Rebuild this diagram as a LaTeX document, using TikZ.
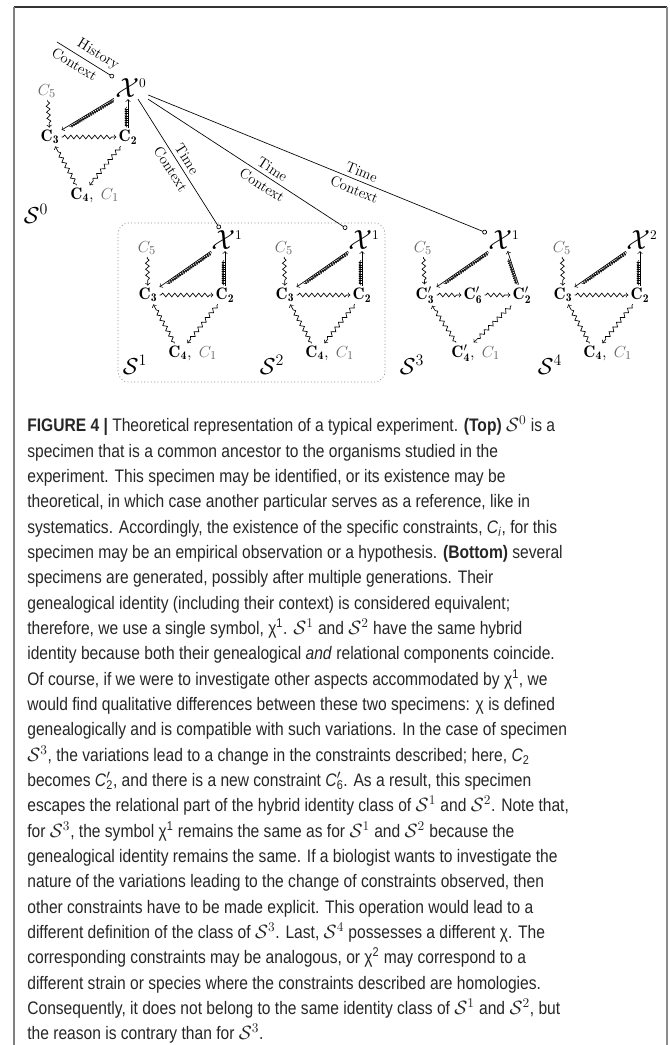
\documentclass[tikz,border=0pt]{standalone}
\usepackage{fontspec}
\newfontfamily\capfont[FakeStretch=0.86]{Liberation Sans}
\usetikzlibrary{arrows.meta, positioning, decorations.pathmorphing, decorations.markings}

\begin{document}
\begin{tikzpicture}[x=0.75pt, y=-0.75pt, line width=0.5pt, >=to,
  cst/.style={inner sep=1.5pt, font=\fontsize{12.5}{14}\selectfont},
  aux/.style={cst, text=black!60},
  chi/.style={inner sep=1pt, font=\fontsize{20}{20}\selectfont},
  spec/.style={inner sep=0pt, font=\fontsize{17}{17}\selectfont},
  wave/.style={->, decorate, decoration={snake, amplitude=1.4pt, segment length=4.5pt, pre length=1pt, post length=2.5pt}},
  comb/.style={->, postaction={decorate, decoration={markings, mark=between positions 2pt and -7pt step 1.7pt with {\draw[line width=0.45pt] (0,0) -- (0,2.6pt);}}}},
  link/.style={-{Circle[open, length=3.5pt]}},
  lab/.style={font=\fontsize{11}{13}\selectfont, sloped, inner sep=3pt}]
\useasboundingbox (0,0) rectangle (669,1045);
% frame
\draw[black!80, line width=0.9pt] (14,7) -- (667,7);
\draw[black!50, line width=1pt] (14,7) -- (14,1045);
\draw[black!45, line width=1.6pt] (667,7) -- (667,1045);
% S0
\node[chi] (x0) at (131,88) {$\mathcal{X}^{\scriptscriptstyle 0}$};
\node[aux] (c5) at (47,91) {$C_5$};
\node[cst] (c3) at (50,137) {$\mathbf{C_3}$};
\node[cst] (c2) at (128,137) {$\mathbf{C_2}$};
\node[cst] (c4) at (82,195) {$\mathbf{C_4}$,};
\node[aux, base right=2pt of c4] (c1) {$C_1$};
\node[spec] (s0) at (36,214) {$\mathcal{S}^0$};
\draw[comb] (x0) -- (c3);
\draw[comb] (c2) -- (c2 |- x0.south);
\draw[wave] (c5) -- (c3);
\draw[wave] (c3) -- (c2);
\draw[wave] (c2) -- (c4);
\draw[wave] (c4) -- (c3);
\coordinate (hist) at (57,42);
\draw[link] (hist) -- (x0) node[lab, pos=.62, above] {History} node[lab, pos=.4, below] {Context};
% S1
\begin{scope}[shift={(227,240)}]
\node[chi] (s1x) at (0,0) {$\mathcal{X}^{\scriptscriptstyle 1}$};
\node[aux] (s1c5) at (-80,8) {$C_5$};
\node[cst] (s1c3) at (-79,55) {$\mathbf{C_3}$};
\node[cst] (s1c2) at (-2,55) {$\mathbf{C_2}$};
\node[cst] (s1c4) at (-47,113) {$\mathbf{C_4}$,};
\node[aux, base right=2pt of s1c4] (s1c1) {$C_1$};
\node[spec] (s1s) at (-92,125) {$\mathcal{S}^1$};
\draw[comb] (s1x) -- (s1c3);
\draw[comb] (s1c2) -- (s1c2 |- s1x.south);
\draw[wave] (s1c5) -- (s1c3);
\draw[wave] (s1c3) -- (s1c2);
\draw[wave] (s1c2) -- (s1c4);
\draw[wave] (s1c4) -- (s1c3);
\end{scope}
% S2
\begin{scope}[shift={(364,240)}]
\node[chi] (s2x) at (0,0) {$\mathcal{X}^{\scriptscriptstyle 1}$};
\node[aux] (s2c5) at (-80,8) {$C_5$};
\node[cst] (s2c3) at (-79,55) {$\mathbf{C_3}$};
\node[cst] (s2c2) at (-2,55) {$\mathbf{C_2}$};
\node[cst] (s2c4) at (-47,113) {$\mathbf{C_4}$,};
\node[aux, base right=2pt of s2c4] (s2c1) {$C_1$};
\node[spec] (s2s) at (-92,125) {$\mathcal{S}^2$};
\draw[comb] (s2x) -- (s2c3);
\draw[comb] (s2c2) -- (s2c2 |- s2x.south);
\draw[wave] (s2c5) -- (s2c3);
\draw[wave] (s2c3) -- (s2c2);
\draw[wave] (s2c2) -- (s2c4);
\draw[wave] (s2c4) -- (s2c3);
\end{scope}
% S3
\begin{scope}[shift={(504,240)}]
\node[chi] (s3x) at (0,0) {$\mathcal{X}^{\scriptscriptstyle 1}$};
\node[aux] (s3c5) at (-81,8) {$C_5$};
\node[cst] (s3c3) at (-79,55) {$\mathbf{C'_3}$};
\node[cst] (s3c6) at (-31,55) {$\mathbf{C'_6}$};
\node[cst] (s3c2) at (18,55) {$\mathbf{C'_2}$};
\node[cst] (s3c4) at (-41,113) {$\mathbf{C'_4}$,};
\node[aux, base right=2pt of s3c4] (s3c1) {$C_1$};
\node[spec] (s3s) at (-92,125) {$\mathcal{S}^3$};
\draw[comb] (s3x) -- (s3c3);
\draw[comb] (s3c2) -- (s3x);
\draw[wave] (s3c5) -- (s3c3);
\draw[wave] (s3c3) -- (s3c6);
\draw[wave] (s3c6) -- (s3c2);
\draw[wave] (s3c2) -- (s3c4);
\draw[wave] (s3c4) -- (s3c3);
\end{scope}
% S4
\begin{scope}[shift={(642,240)}]
\node[chi] (s4x) at (0,0) {$\mathcal{X}^{\scriptscriptstyle 2}$};
\node[aux] (s4c5) at (-80,8) {$C_5$};
\node[cst] (s4c3) at (-79,55) {$\mathbf{C_3}$};
\node[cst] (s4c2) at (-2,55) {$\mathbf{C_2}$};
\node[cst] (s4c4) at (-47,113) {$\mathbf{C_4}$,};
\node[aux, base right=2pt of s4c4] (s4c1) {$C_1$};
\node[spec] (s4s) at (-92,125) {$\mathcal{S}^4$};
\draw[comb] (s4x) -- (s4c3);
\draw[comb] (s4c2) -- (s4c2 |- s4x.south);
\draw[wave] (s4c5) -- (s4c3);
\draw[wave] (s4c3) -- (s4c2);
\draw[wave] (s4c2) -- (s4c4);
\draw[wave] (s4c4) -- (s4c3);
\end{scope}
% genealogical links
\draw[link] (x0) -- (s1x) node[lab, pos=.5, above] {Time} node[lab, pos=.5, below] {Context};
\draw[link] (x0) -- (s2x) node[lab, pos=.6, above] {Time} node[lab, pos=.6, below] {Context};
\draw[link] (x0) -- (s3x) node[lab, pos=.62, above] {Time} node[lab, pos=.62, below] {Context};
\draw[dotted, black!70, rounded corners=8pt] (118,223) rectangle (385,382);
% caption
\node[anchor=north west, align=left, inner sep=0pt, text=black!85, font=\capfont\fontsize{13.6}{19}\selectfont] (cap) at (27,416) {%
\textbf{FIGURE 4 |} Theoretical representation of a typical experiment. \textbf{(Top)} $\mathcal{S}^0$ is a\\
specimen that is a common ancestor to the organisms studied in the\\
experiment. This specimen may be identified, or its existence may be\\
theoretical, in which case another particular serves as a reference, like in\\
systematics. Accordingly, the existence of the specific constraints, \textit{C}\textsubscript{\textit{i}}, for this\\
specimen may be an empirical observation or a hypothesis. \textbf{(Bottom)} several\\
specimens are generated, possibly after multiple generations. Their\\
genealogical identity (including their context) is considered equivalent;\\
therefore, we use a single symbol, χ\textsuperscript{1}. $\mathcal{S}^1$ and $\mathcal{S}^2$ have the same hybrid\\
identity because both their genealogical \textit{and} relational components coincide.\\
Of course, if we were to investigate other aspects accommodated by χ\textsuperscript{1}, we\\
would find qualitative differences between these two specimens: χ is defined\\
genealogically and is compatible with such variations. In the case of specimen\\
$\mathcal{S}^3$, the variations lead to a change in the constraints described; here, \textit{C}\textsubscript{2}\\
becomes \textit{C}\rlap{$'$}\textsubscript{2}, and there is a new constraint \textit{C}\rlap{$'$}\textsubscript{6}. As a result, this specimen\\
escapes the relational part of the hybrid identity class of $\mathcal{S}^1$ and $\mathcal{S}^2$. Note that,\\
for $\mathcal{S}^3$, the symbol χ\textsuperscript{1} remains the same as for $\mathcal{S}^1$ and $\mathcal{S}^2$ because the\\
genealogical identity remains the same. If a biologist wants to investigate the\\
nature of the variations leading to the change of constraints observed, then\\
other constraints have to be made explicit. This operation would lead to a\\
different definition of the class of $\mathcal{S}^3$. Last, $\mathcal{S}^4$ possesses a different χ. The\\
corresponding constraints may be analogous, or χ\textsuperscript{2} may correspond to a\\
different strain or species where the constraints described are homologies.\\
Consequently, it does not belong to the same identity class of $\mathcal{S}^1$ and $\mathcal{S}^2$, but\\
the reason is contrary than for $\mathcal{S}^3$.};
\end{tikzpicture}
\end{document}
